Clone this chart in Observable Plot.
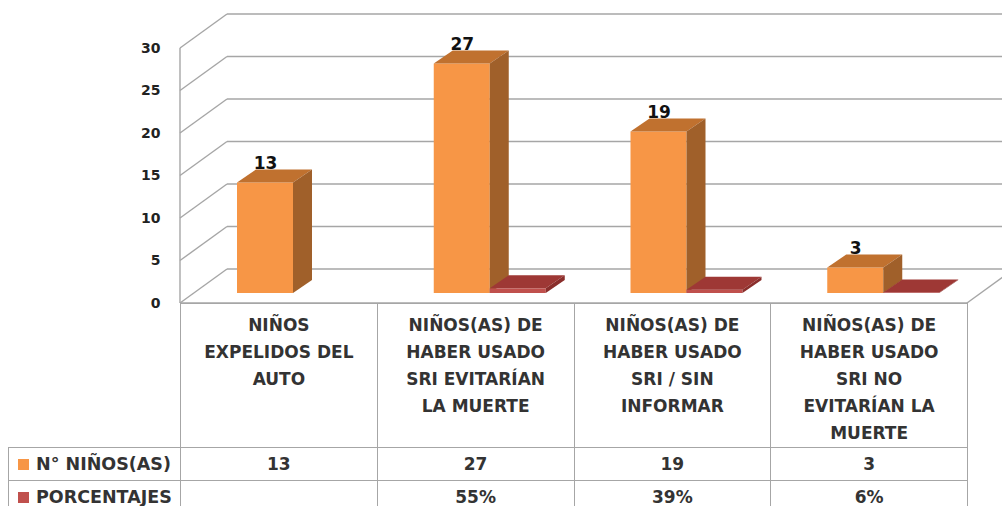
<!DOCTYPE html>
<html><head><meta charset="utf-8">
<script src="https://cdn.jsdelivr.net/npm/d3@7"></script>
<script src="https://cdn.jsdelivr.net/npm/@observablehq/plot@0.6"></script>
<style>
html,body{margin:0;padding:0;background:#fff;overflow:hidden;}
#wrap{position:relative;width:1002px;height:506px;overflow:hidden;}
#wrap svg{display:block;}
table{position:absolute;left:8px;top:303px;border-collapse:collapse;table-layout:fixed;font-family:"DejaVu Sans";font-weight:bold;color:#333;font-size:17px;}
td{border:1.5px solid #a6a6a6;padding:0;text-align:center;}
td.head{vertical-align:top;padding-top:8px;line-height:27px;white-space:pre-line;}
td.leg{text-align:left;white-space:nowrap;font-size:17.5px;}
.sw{display:inline-block;width:11px;height:11px;margin:0 7px 0 9px;vertical-align:0px;}
</style></head><body><div id="wrap"></div>
<script>
// ---- data ----
const categories = [
  "NIÑOS\nEXPELIDOS DEL\nAUTO",
  "NIÑOS(AS) DE\nHABER USADO\nSRI EVITARÍAN\nLA MUERTE",
  "NIÑOS(AS) DE\nHABER USADO\nSRI / SIN\nINFORMAR",
  "NIÑOS(AS) DE\nHABER USADO\nSRI NO\nEVITARÍAN LA\nMUERTE"
];
const ninos = [13, 27, 19, 3];
const porcentajes = [null, 0.55, 0.39, 0.06];
const seriesNames = ["N° NIÑOS(AS)", "PORCENTAJES"];
const yTicks = [0, 5, 10, 15, 20, 25, 30];

// ---- styling / geometry ----
const W = 1002, H = 306, ML = 180, MR = 35, MT = 48, MB = 3;
const BW = (W - ML - MR) / categories.length;
const BAR_INSET = 43, BAR_W = 56;
const PLANE_DX = 14, PLANE_DY = -10;   // bars sit behind the front plane
const DEPTH_DX = 19, DEPTH_DY = -13;   // bar depth
const BACK_DX = 47, BACK_DY = -34;     // wall depth
const ORANGE = "#F79646", ORANGE_TOP = "#C0712F", ORANGE_SIDE = "#A0602A";
const RED = "#C0504D", RED_TOP = "#9E3835", RED_SIDE = "#8A2E2B";
const GRID = "#A6A6A6";
const FONT = "DejaVu Sans";

const orangeData = categories.map((c, i) => ({cat: c, v: ninos[i]}));
const redData = categories.map((c, i) => ({cat: c, v: porcentajes[i]})).filter(d => d.v != null);

function walls(index, scales, values, dims) {
  const {y} = scales;
  const x0 = dims.marginLeft, x1 = dims.width - dims.marginRight;
  const g = d3.create("svg:g").attr("stroke", GRID).attr("stroke-width", 1.4).attr("fill", "none");
  for (const t of yTicks) {
    const yy = y(t);
    g.append("line").attr("x1", x0).attr("y1", yy).attr("x2", x0 + BACK_DX).attr("y2", yy + BACK_DY);
    g.append("line").attr("x1", x0 + BACK_DX).attr("y1", yy + BACK_DY).attr("x2", dims.width).attr("y2", yy + BACK_DY);
  }
  const [lo, hi] = d3.extent(yTicks);
  g.append("line").attr("x1", x0).attr("y1", y(hi)).attr("x2", x0).attr("y2", y(lo));
  g.append("line").attr("x1", x0).attr("y1", y(lo)).attr("x2", x1).attr("y2", y(lo));
  g.append("line").attr("x1", x1).attr("y1", y(lo)).attr("x2", x1 + BACK_DX).attr("y2", y(lo) + BACK_DY);
  return g.node();
}

function faces(data, inset, topColor, sideColor) {
  return function (index, scales) {
    const {x, y} = scales;
    const g = d3.create("svg:g");
    for (const d of data) {
      const xl = x(d.cat) + inset + PLANE_DX, xr = xl + BAR_W;
      const yt = y(d.v) + PLANE_DY, yb = y(0) + PLANE_DY;
      g.append("path").attr("fill", topColor)
        .attr("d", `M${xl},${yt}L${xr},${yt}L${xr + DEPTH_DX},${yt + DEPTH_DY}L${xl + DEPTH_DX},${yt + DEPTH_DY}Z`);
      g.append("path").attr("fill", sideColor)
        .attr("d", `M${xr},${yt}L${xr + DEPTH_DX},${yt + DEPTH_DY}L${xr + DEPTH_DX},${yb + DEPTH_DY}L${xr},${yb}Z`);
    }
    return g.node();
  };
}

const chart = Plot.plot({
  width: W, height: H, marginLeft: ML, marginRight: MR, marginTop: MT, marginBottom: MB,
  style: {fontFamily: FONT, background: "transparent", overflow: "visible"},
  x: {domain: categories, padding: 0, round: false, axis: null},
  y: {domain: [0, 30], label: null},
  marks: [
    walls,
    Plot.barY(orangeData, {x: "cat", y: "v", fill: ORANGE, insetLeft: BAR_INSET, insetRight: BW - BAR_INSET - BAR_W, dx: PLANE_DX, dy: PLANE_DY}),
    faces(orangeData, BAR_INSET, ORANGE_TOP, ORANGE_SIDE),
    Plot.barY(redData, {x: "cat", y: "v", fill: RED, insetLeft: BAR_INSET + BAR_W, insetRight: BW - BAR_INSET - 2 * BAR_W, dx: PLANE_DX, dy: PLANE_DY}),
    faces(redData, BAR_INSET + BAR_W, RED_TOP, RED_SIDE),
    Plot.text(orangeData, {x: "cat", y: "v", text: d => String(d.v), dx: BAR_INSET + PLANE_DX + BAR_W / 2 - BW / 2, dy: -29, fontSize: 17, fontWeight: "bold", fill: "#111"}),
    Plot.axisY(yTicks, {tickSize: 0, tickPadding: 20, fontSize: 14, fontWeight: "bold", color: "#222", label: null})
  ]
});

const wrap = document.getElementById("wrap");
wrap.appendChild(chart);

// ---- data table, aligned with the x scale ----
const xs = chart.scale("x");
const table = d3.select(wrap).append("table");
const cg = table.append("colgroup");
cg.append("col").style("width", (xs.range[0] - 8) + "px");
xs.domain.forEach(() => cg.append("col").style("width", xs.bandwidth + "px"));
const tb = table.append("tbody");
const hr = tb.append("tr").style("height", "142px");
hr.append("td").style("border-top", "none").style("border-left", "none");
hr.selectAll("td.head").data(categories).join("td").attr("class", "head").text(d => d);
const fmt = d3.format(".0%");
const rows = [
  {name: seriesNames[0], color: ORANGE, vals: ninos.map(v => v == null ? "" : String(v))},
  {name: seriesNames[1], color: RED, vals: porcentajes.map(v => v == null ? "" : fmt(v))}
];
for (const r of rows) {
  const tr = tb.append("tr").style("height", "33px");
  const lg = tr.append("td").attr("class", "leg");
  lg.append("span").attr("class", "sw").style("background", r.color);
  lg.append("span").text(r.name);
  r.vals.forEach(v => tr.append("td").text(v));
}
</script></body></html>
